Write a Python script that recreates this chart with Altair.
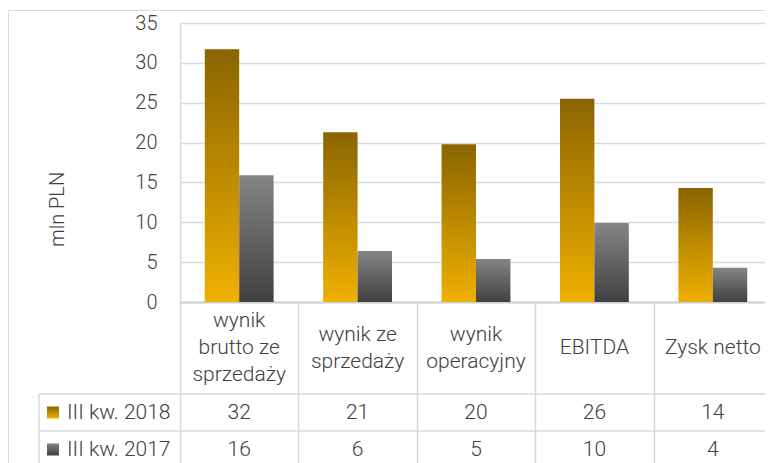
import altair as alt
import pandas as pd

categories = ["wynik\nbrutto ze\nsprzedaży", "wynik ze\nsprzedaży", "wynik\noperacyjny", "EBITDA", "Zysk netto"]
series = ["III kw. 2018", "III kw. 2017"]
values_2018 = [31.7, 21.3, 19.8, 25.5, 14.3]
values_2017 = [15.9, 6.4, 5.4, 9.9, 4.3]
y_ticks = [0, 5, 10, 15, 20, 25, 30, 35]

df = pd.DataFrame({
    "category": categories * 2,
    "series": [series[0]] * len(categories) + [series[1]] * len(categories),
    "value": values_2018 + values_2017,
})
ser_df = pd.DataFrame({"series": series})

# one row per label line, with its offset from the label's vertical centre
line_rows = []
for c in categories:
    parts = c.split("\n")
    n = len(parts)
    for i, p in enumerate(parts):
        line_rows.append({"category": c, "line": p, "off": i - (n - 1) / 2})
lines_df = pd.DataFrame(line_rows)

FONT = "Roboto"
TXT = "#404040"
LINE = "#d9d9d9"

gold = alt.Gradient(gradient="linear",
                    stops=[alt.GradientStop(color="#8a6500", offset=0),
                           alt.GradientStop(color="#f0b000", offset=1)],
                    x1=0, x2=0, y1=0, y2=1)
gray = alt.Gradient(gradient="linear",
                    stops=[alt.GradientStop(color="#858585", offset=0),
                           alt.GradientStop(color="#404040", offset=1)],
                    x1=0, x2=0, y1=0, y2=1)

xscale = alt.Scale(domain=categories, range=[172, 764], paddingInner=0, paddingOuter=0)
offscale = alt.Scale(domain=series, paddingInner=0, paddingOuter=0.72)
yscale = alt.Scale(domain=[0, 35], range=[292, 13], nice=False)
rowscale = alt.Scale(type="band", domain=series, range=[384, 458], paddingInner=0, paddingOuter=0)
linescale = alt.Scale(domain=[-1, 1], range=[311, 365])

xaxis = alt.Axis(orient="bottom", offset=-168, labels=False, ticks=True, tickBand="extent",
                 tickSize=166, tickColor=LINE, tickWidth=1.5, domainColor="#cfcfcf",
                 domainWidth=2, grid=False, title=None)
yaxis = alt.Axis(orient="left", offset=-172, values=y_ticks, grid=True, gridColor=LINE,
                 gridWidth=1.5, domain=True, domainColor=LINE, domainWidth=1.5,
                 ticks=False, tickSize=0, labelPadding=23, labelFont=FONT,
                 labelFontSize=20, labelFontWeight=300, labelColor=TXT,
                 title="mln PLN", titleAngle=270, titleX=-123, titleY=199,
                 titleFont=FONT, titleFontSize=20, titleFontWeight=300, titleColor=TXT,
                 titleAlign="center", titleBaseline="middle")

X = alt.X("category:N", scale=xscale, axis=xaxis, sort=categories)

def bar_layer(name, grad):
    return alt.Chart(df).transform_filter(alt.datum.series == name).mark_bar(fill=grad).encode(
        x=X,
        xOffset=alt.XOffset("series:N", scale=offscale, sort=series),
        y=alt.Y("value:Q", scale=yscale, axis=yaxis),
    )

bars = alt.layer(bar_layer(series[0], gold), bar_layer(series[1], gray))

cat_labels = alt.Chart(lines_df).mark_text(
    baseline="middle", align="center", font=FONT, fontWeight=300,
    fontSize=21, color=TXT
).encode(x=X, y=alt.Y("off:Q", scale=linescale, axis=None), text="line:N")

Yrow = alt.Y("series:N", scale=rowscale, axis=None, sort=series)

row_lines = alt.Chart(ser_df).mark_rule(color=LINE, strokeWidth=1.5).encode(
    y=alt.Y("series:N", scale=rowscale, axis=None, sort=series, bandPosition=0),
    x=alt.value(31), x2=alt.value(768),
)
hdr_line = alt.Chart(ser_df.head(1)).mark_rule(color=LINE, strokeWidth=1.5).encode(
    y=alt.Y("series:N", scale=rowscale, axis=None, sort=series, bandPosition=0),
    y2=alt.value(470), x=alt.value(31),
)
vals = alt.Chart(df).mark_text(font=FONT, fontWeight=300, fontSize=21, color=TXT,
                               baseline="middle").encode(
    x=X, y=Yrow, text=alt.Text("value:Q", format=".0f"))
hdr_text = alt.Chart(ser_df).mark_text(font=FONT, fontWeight=300, fontSize=21, color=TXT,
                                       align="left", baseline="middle").encode(
    x=alt.value(59), y=Yrow, text="series:N")

def square(name, grad):
    return alt.Chart(ser_df).transform_filter(alt.datum.series == name).mark_square(
        size=144, fill=grad, opacity=1).encode(x=alt.value(45), y=Yrow)

table = alt.layer(row_lines, hdr_line, vals, hdr_text,
                  square(series[0], gold), square(series[1], gray))

chart = alt.layer(bars, cat_labels, table).resolve_scale(y="independent").properties(
    width=766, height=460,
    autosize=alt.AutoSizeParams(type="none"),
    padding={"top": 2, "left": 0, "right": -9, "bottom": -7},
).configure_view(stroke=LINE, strokeWidth=1)

chart.save("out.html", embed_options={"renderer": "svg", "actions": False})
